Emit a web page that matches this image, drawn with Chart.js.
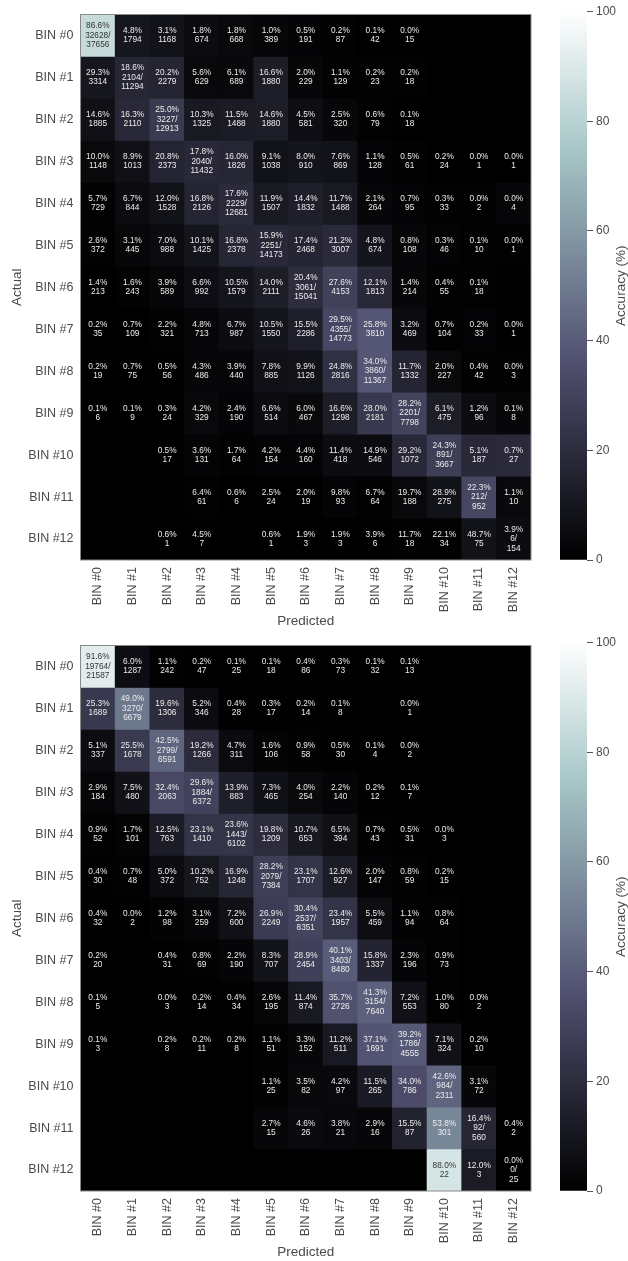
<!DOCTYPE html>
<html>
<head>
<meta charset="utf-8">
<title>Confusion matrices</title>
<script src="https://cdn.jsdelivr.net/npm/chart.js@4/dist/chart.umd.min.js"></script>
<style>
  html, body { margin: 0; padding: 0; background: #fff; }
  body { position: relative; width: 628px; height: 1261px; overflow: hidden; }
  canvas { position: absolute; filter: blur(0.6px); }
</style>
</head>
<body>
<canvas id="heatTop" width="545" height="630" style="left:0;top:0"></canvas>
<canvas id="barTop" width="83" height="630" style="left:545px;top:0"></canvas>
<canvas id="heatBottom" width="545" height="630" style="left:0;top:631px"></canvas>
<canvas id="barBottom" width="83" height="630" style="left:545px;top:631px"></canvas>

<script>
//-------------------Data-------------------
const binLabels = ['BIN #0','BIN #1','BIN #2','BIN #3','BIN #4','BIN #5','BIN #6','BIN #7','BIN #8','BIN #9','BIN #10','BIN #11','BIN #12'];
const colorbarTicks = [0, 20, 40, 60, 80, 100];
const colorbarRange = [0, 100];
const _ = null;

//top matrix: percent per cell
const topPct = [
  [86.6, 4.8, 3.1, 1.8, 1.8, 1.0, 0.5, 0.2, 0.1, 0.0, _, _, _],
  [29.3, 18.6, 20.2, 5.6, 6.1, 16.6, 2.0, 1.1, 0.2, 0.2, _, _, _],
  [14.6, 16.3, 25.0, 10.3, 11.5, 14.6, 4.5, 2.5, 0.6, 0.1, _, _, _],
  [10.0, 8.9, 20.8, 17.8, 16.0, 9.1, 8.0, 7.6, 1.1, 0.5, 0.2, 0.0, 0.0],
  [5.7, 6.7, 12.0, 16.8, 17.6, 11.9, 14.4, 11.7, 2.1, 0.7, 0.3, 0.0, 0.0],
  [2.6, 3.1, 7.0, 10.1, 16.8, 15.9, 17.4, 21.2, 4.8, 0.8, 0.3, 0.1, 0.0],
  [1.4, 1.6, 3.9, 6.6, 10.5, 14.0, 20.4, 27.6, 12.1, 1.4, 0.4, 0.1, _],
  [0.2, 0.7, 2.2, 4.8, 6.7, 10.5, 15.5, 29.5, 25.8, 3.2, 0.7, 0.2, 0.0],
  [0.2, 0.7, 0.5, 4.3, 3.9, 7.8, 9.9, 24.8, 34.0, 11.7, 2.0, 0.4, 0.0],
  [0.1, 0.1, 0.3, 4.2, 2.4, 6.6, 6.0, 16.6, 28.0, 28.2, 6.1, 1.2, 0.1],
  [_, _, 0.5, 3.6, 1.7, 4.2, 4.4, 11.4, 14.9, 29.2, 24.3, 5.1, 0.7],
  [_, _, _, 6.4, 0.6, 2.5, 2.0, 9.8, 6.7, 19.7, 28.9, 22.3, 1.1],
  [_, _, 0.6, 4.5, _, 0.6, 1.9, 1.9, 3.9, 11.7, 22.1, 48.7, 3.9]
];
//top matrix: counts per cell
const topCount = [
  [32628, 1794, 1168, 674, 668, 389, 191, 87, 42, 15, _, _, _],
  [3314, 2104, 2279, 629, 689, 1880, 229, 129, 23, 18, _, _, _],
  [1885, 2110, 3227, 1325, 1488, 1880, 581, 320, 79, 18, _, _, _],
  [1148, 1013, 2373, 2040, 1826, 1038, 910, 869, 128, 61, 24, 1, 1],
  [729, 844, 1528, 2126, 2229, 1507, 1832, 1488, 264, 95, 33, 2, 4],
  [372, 445, 988, 1425, 2378, 2251, 2468, 3007, 674, 108, 46, 10, 1],
  [213, 243, 589, 992, 1579, 2111, 3061, 4153, 1813, 214, 55, 18, _],
  [35, 109, 321, 713, 987, 1550, 2286, 4355, 3810, 469, 104, 33, 1],
  [19, 75, 56, 486, 440, 885, 1126, 2816, 3860, 1332, 227, 42, 3],
  [6, 9, 24, 329, 190, 514, 467, 1298, 2181, 2201, 475, 96, 8],
  [_, _, 17, 131, 64, 154, 160, 418, 546, 1072, 891, 187, 27],
  [_, _, _, 61, 6, 24, 19, 93, 64, 188, 275, 212, 10],
  [_, _, 1, 7, _, 1, 3, 3, 6, 18, 34, 75, 6]
];
const topTotals = [37656, 11294, 12913, 11432, 12681, 14173, 15041, 14773, 11367, 7798, 3667, 952, 154];
//top matrix: the shade of each cell on the colorbar (does not follow the printed percent)
const topShade = [
  [84, 10, 8, 5, 4, 3, 2, 1, 0, 0, 0, 0, 0],
  [10, 17, 16, 4, 4, 13, 3, 1, 1, 1, 0, 0, 0],
  [7, 18, 26, 11, 12, 13, 6, 3, 1, 0, 0, 0, 0],
  [4, 7, 16, 18, 17, 8, 9, 8, 2, 1, 0, 0, 0],
  [1, 5, 8, 16, 19, 11, 14, 11, 3, 2, 1, 1, 3],
  [1, 3, 5, 9, 17, 18, 16, 19, 9, 3, 2, 1, 1],
  [0, 1, 3, 6, 9, 13, 20, 29, 18, 3, 1, 1, 0],
  [0, 0, 1, 3, 5, 9, 14, 32, 38, 5, 1, 2, 0],
  [0, 0, 0, 3, 3, 7, 8, 22, 38, 16, 4, 1, 1],
  [0, 0, 0, 4, 2, 5, 4, 13, 25, 30, 13, 5, 3],
  [0, 0, 0, 2, 1, 2, 2, 5, 5, 18, 28, 18, 19],
  [0, 0, 0, 1, 0, 0, 0, 2, 1, 4, 8, 32, 4],
  [0, 0, 0, 0, 0, 0, 0, 0, 0, 1, 1, 8, 5]
];

//bottom matrix: percent per cell
const bottomPct = [
  [91.6, 6.0, 1.1, 0.2, 0.1, 0.1, 0.4, 0.3, 0.1, 0.1, _, _, _],
  [25.3, 49.0, 19.6, 5.2, 0.4, 0.3, 0.2, 0.1, _, 0.0, _, _, _],
  [5.1, 25.5, 42.5, 19.2, 4.7, 1.6, 0.9, 0.5, 0.1, 0.0, _, _, _],
  [2.9, 7.5, 32.4, 29.6, 13.9, 7.3, 4.0, 2.2, 0.2, 0.1, _, _, _],
  [0.9, 1.7, 12.5, 23.1, 23.6, 19.8, 10.7, 6.5, 0.7, 0.5, 0.0, _, _],
  [0.4, 0.7, 5.0, 10.2, 16.9, 28.2, 23.1, 12.6, 2.0, 0.8, 0.2, _, _],
  [0.4, 0.0, 1.2, 3.1, 7.2, 26.9, 30.4, 23.4, 5.5, 1.1, 0.8, _, _],
  [0.2, _, 0.4, 0.8, 2.2, 8.3, 28.9, 40.1, 15.8, 2.3, 0.9, _, _],
  [0.1, _, 0.0, 0.2, 0.4, 2.6, 11.4, 35.7, 41.3, 7.2, 1.0, 0.0, _],
  [0.1, _, 0.2, 0.2, 0.2, 1.1, 3.3, 11.2, 37.1, 39.2, 7.1, 0.2, _],
  [_, _, _, _, _, 1.1, 3.5, 4.2, 11.5, 34.0, 42.6, 3.1, _],
  [_, _, _, _, _, 2.7, 4.6, 3.8, 2.9, 15.5, 53.8, 16.4, 0.4],
  [_, _, _, _, _, _, _, _, _, _, 88.0, 12.0, 0.0]
];
//bottom matrix: counts per cell
const bottomCount = [
  [19764, 1287, 242, 47, 25, 18, 86, 73, 32, 13, _, _, _],
  [1689, 3270, 1306, 346, 28, 17, 14, 8, _, 1, _, _, _],
  [337, 1678, 2799, 1266, 311, 106, 58, 30, 4, 2, _, _, _],
  [184, 480, 2063, 1884, 883, 465, 254, 140, 12, 7, _, _, _],
  [52, 101, 763, 1410, 1443, 1209, 653, 394, 43, 31, 3, _, _],
  [30, 48, 372, 752, 1248, 2079, 1707, 927, 147, 59, 15, _, _],
  [32, 2, 98, 259, 600, 2249, 2537, 1957, 459, 94, 64, _, _],
  [20, _, 31, 69, 190, 707, 2454, 3403, 1337, 196, 73, _, _],
  [5, _, 3, 14, 34, 195, 874, 2726, 3154, 553, 80, 2, _],
  [3, _, 8, 11, 8, 51, 152, 511, 1691, 1786, 324, 10, _],
  [_, _, _, _, _, 25, 82, 97, 265, 786, 984, 72, _],
  [_, _, _, _, _, 15, 26, 21, 16, 87, 301, 92, 2],
  [_, _, _, _, _, _, _, _, _, _, 22, 3, 0]
];
const bottomTotals = [21587, 6679, 6591, 6372, 6102, 7384, 8351, 8480, 7640, 4555, 2311, 560, 25];

//-------------------Colormap (matplotlib bone)-------------------
const boneStops = [
  [0, 0, 0, 0],
  [0.365079, 0.319444, 0.319444, 0.444444],
  [0.746032, 0.652778, 0.777778, 0.777778],
  [1, 1, 1, 1]
];

function boneColor(v){ //v between 0 and 1
  let i = 0;
  while (i < boneStops.length - 2 && v > boneStops[i + 1][0]) i++;
  const a = boneStops[i], b = boneStops[i + 1];
  const t = (v - a[0]) / (b[0] - a[0]);
  const ch = [1, 2, 3].map(k => Math.round(255 * (a[k] + t * (b[k] - a[k]))));
  return 'rgb(' + ch.join(',') + ')';
}

//-------------------Plugins-------------------
const labelFont = '"Liberation Sans", Arial, sans-serif';
const labelColor = '#4a4a4a';

const cellText = {
  id: 'cellText',
  beforeDatasetsDraw(chart){
    //black under the cells so no white seams show between bars
    const a = chart.chartArea;
    chart.ctx.save();
    chart.ctx.fillStyle = '#000';
    chart.ctx.fillRect(a.left, a.top, a.right - a.left, a.bottom - a.top);
    chart.ctx.restore();
  },
  afterDatasetsDraw(chart, args, opts){
    const ctx = chart.ctx;
    const sx = chart.scales.x, sy = chart.scales.y;
    ctx.save();
    ctx.font = '8.3px ' + labelFont;
    ctx.textAlign = 'center';
    ctx.textBaseline = 'middle';
    opts.pct.forEach((row, r) => {
      row.forEach((p, c) => {
        if (p === null) return;
        const lines = [p.toFixed(1) + '%'];
        if (r === c) lines.push(opts.count[r][c] + '/', String(opts.totals[r]));
        else lines.push(String(opts.count[r][c]));
        ctx.fillStyle = opts.shade[r][c] > 60 ? '#333' : '#ececec';
        const x = sx.getPixelForValue(c);
        const y = sy.getPixelForValue(r + 0.5);
        lines.forEach((t, i) => {
          ctx.fillText(t, x, y + (i - (lines.length - 1) / 2) * 9.3);
        });
      });
    });
    //thin frame round the matrix
    const a = chart.chartArea;
    ctx.strokeStyle = '#8a8a8a';
    ctx.lineWidth = 1;
    ctx.strokeRect(a.left, a.top, a.right - a.left, a.bottom - a.top);
    ctx.restore();
  }
};

const sideTitle = {
  id: 'sideTitle',
  afterDraw(chart){
    const ctx = chart.ctx;
    const a = chart.chartArea;
    ctx.save();
    ctx.translate(76, (a.top + a.bottom) / 2);
    ctx.rotate(-Math.PI / 2);
    ctx.font = '13.5px ' + labelFont;
    ctx.fillStyle = labelColor;
    ctx.textAlign = 'center';
    ctx.textBaseline = 'middle';
    ctx.fillText('Accuracy (%)', 0, 0);
    ctx.restore();
  }
};

//-------------------Functions-------------------
function drawHeatmap(id, pct, count, totals, shade){
  const ctx = document.getElementById(id).getContext('2d');
  const datasets = pct.map((row, r) => ({
    data: row.map(() => [r, r + 1]),
    backgroundColor: row.map((p, c) => boneColor((shade[r][c] === null ? 0 : shade[r][c]) / 100)),
    borderWidth: 0,
    grouped: false,
    barPercentage: 1,
    categoryPercentage: 1
  }));

  return new Chart(ctx, {
    type: 'bar',
    data: { labels: binLabels, datasets: datasets },
    plugins: [cellText],
    options: {
      responsive: false,
      animation: false,
      layout: { padding: { top: 11.5, right: 14, left: 0, bottom: 0 } },
      plugins: {
        legend: { display: false },
        tooltip: { enabled: false },
        cellText: { pct: pct, count: count, totals: totals, shade: shade }
      },
      scales: {
        x: {
          afterFit: s => { s.height = 70; },
          grid: { display: false, drawTicks: false },
          border: { display: false },
          ticks: {
            minRotation: 90, maxRotation: 90, autoSkip: false, padding: 7,
            color: labelColor, font: { family: labelFont, size: 12.5 }
          },
          title: {
            display: true, text: 'Predicted', color: labelColor,
            font: { family: labelFont, size: 13.5 }, padding: { top: 0, bottom: 1 }
          }
        },
        y: {
          min: 0, max: 13, reverse: true,
          afterFit: s => { s.width = 80.5; },
          afterBuildTicks: s => { s.ticks = binLabels.map((l, i) => ({ value: i + 0.5 })); },
          grid: { display: false, drawTicks: false },
          border: { display: false },
          ticks: {
            autoSkip: false, padding: 7, color: labelColor,
            font: { family: labelFont, size: 12.5 },
            callback: v => binLabels[Math.floor(v)]
          },
          title: {
            display: true, text: 'Actual', color: labelColor,
            font: { family: labelFont, size: 13.5 }, padding: { top: 9, bottom: 0 }
          }
        }
      }
    }
  });
}

function boneGradient(chart){
  const a = chart.chartArea;
  if (!a) return '#000';
  const g = chart.ctx.createLinearGradient(0, a.bottom, 0, a.top);
  boneStops.forEach(s => {
    g.addColorStop(s[0], boneColor(s[0]));
  });
  return g;
}

function drawColorbar(id){
  const ctx = document.getElementById(id).getContext('2d');
  return new Chart(ctx, {
    type: 'bar',
    data: {
      labels: ['Accuracy'],
      datasets: [{
        data: [colorbarRange],
        backgroundColor: c => boneGradient(c.chart),
        borderWidth: 0,
        barPercentage: 1,
        categoryPercentage: 1
      }]
    },
    plugins: [sideTitle],
    options: {
      responsive: false,
      animation: false,
      layout: { padding: { top: 11.5, bottom: 70, left: 15, right: 0 } },
      plugins: { legend: { display: false }, tooltip: { enabled: false } },
      scales: {
        x: { display: false },
        y: {
          position: 'right',
          min: 0, max: 100,
          afterFit: s => { s.width = 41; },
          afterBuildTicks: s => { s.ticks = colorbarTicks.map(v => ({ value: v })); },
          border: { display: false },
          grid: { drawOnChartArea: false, tickLength: 6, color: '#555', lineWidth: 1 },
          ticks: { padding: 3, color: labelColor, font: { family: labelFont, size: 12 } }
        }
      }
    }
  });
}

//-------------------Main Code-------------------
drawHeatmap('heatTop', topPct, topCount, topTotals, topShade);
drawHeatmap('heatBottom', bottomPct, bottomCount, bottomTotals, bottomPct);
drawColorbar('barTop');
drawColorbar('barBottom');
</script>
</body>
</html>
